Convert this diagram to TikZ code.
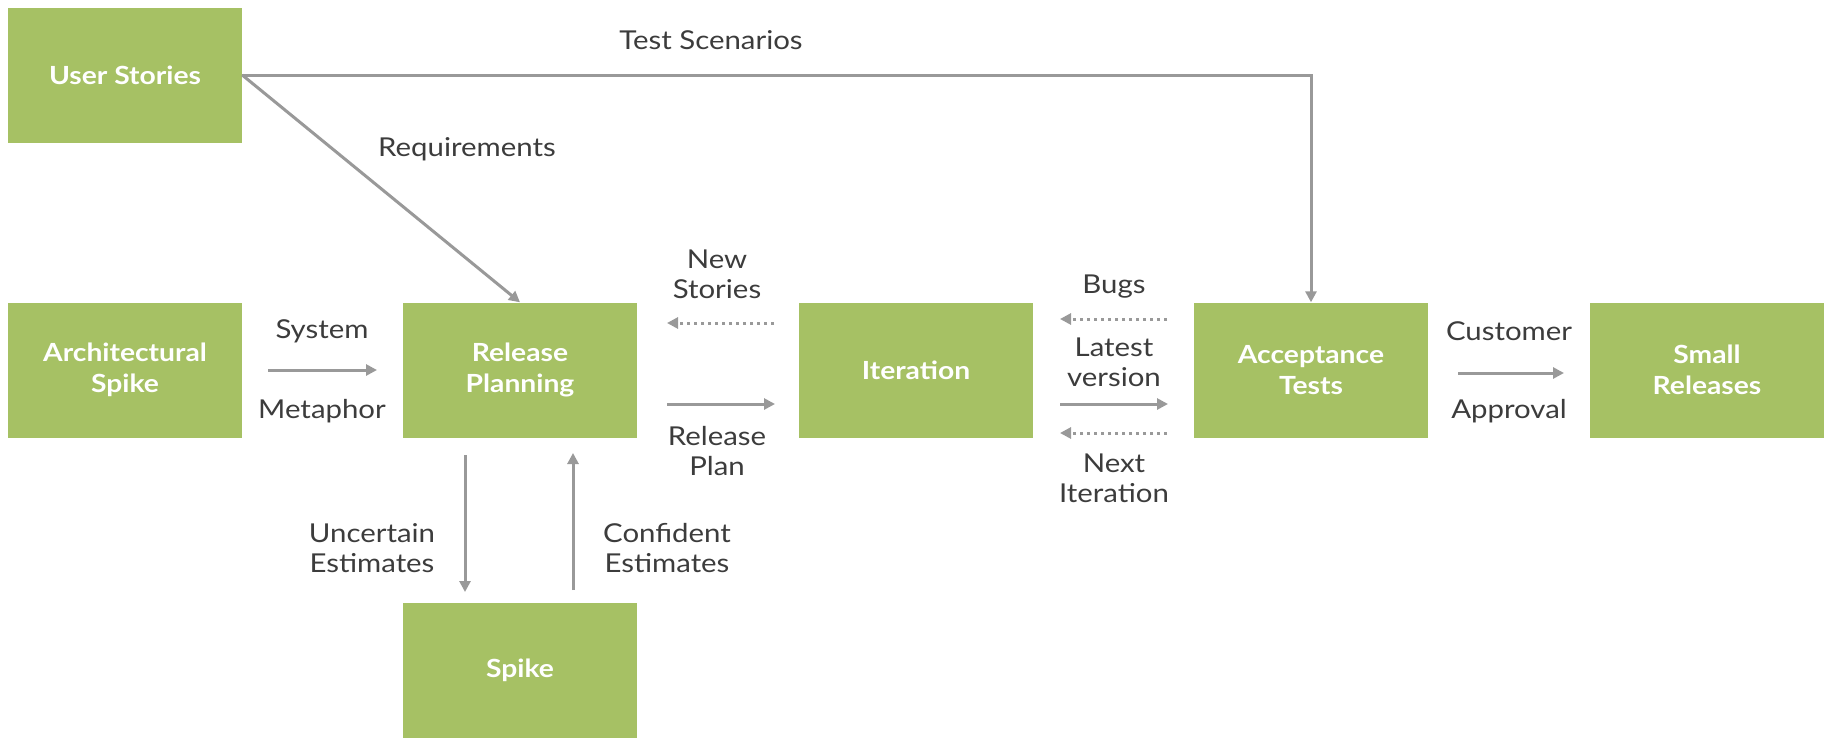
\documentclass[tikz,border=0pt]{standalone}
\usepackage{fontspec}
\setmainfont{Lato}[FakeStretch=1.13]
\usetikzlibrary{arrows.meta}
\definecolor{boxgreen}{HTML}{A6C164}
\definecolor{arrowgray}{HTML}{999999}
\definecolor{labelgray}{HTML}{3C3C3C}
\tikzset{
  stepbox/.style={fill=boxgreen, minimum width=234pt, minimum height=135pt, inner sep=0pt,
    text=white, align=center, font=\fontsize{25}{31}\selectfont\bfseries},
  lbl/.style={text=labelgray, align=center, inner sep=0pt, font=\fontsize{26}{30}\selectfont},
  flow/.style={draw=arrowgray, line width=3pt, -{Triangle[length=11pt,width=11pt]}},
  dotflow/.style={flow, dash pattern=on 3pt off 4pt},
}
\begin{document}
\begin{tikzpicture}[x=1pt,y=-1pt]
\useasboundingbox (0,0) rectangle (1836,750);
% boxes
\node[stepbox] (us) at (125,75) {User Stories};
\node[stepbox] (as) at (125,370) {Architectural\\Spike};
\node[stepbox] (rp) at (520,370) {Release\\Planning};
\node[stepbox] (it) at (916,370) {Iteration};
\node[stepbox] (at) at (1311,370) {Acceptance\\Tests};
\node[stepbox] (sr) at (1707,370) {Small\\Releases};
\node[stepbox] (sp) at (520,670) {Spike};
% coordinates for free arrows
\coordinate (sysA) at (268,370);
\coordinate (sysB) at (377,370);
\coordinate (nsA) at (774,323);
\coordinate (nsB) at (667,323);
\coordinate (rplA) at (667,404);
\coordinate (rplB) at (775,404);
\coordinate (bgA) at (1167,319);
\coordinate (bgB) at (1060,319);
\coordinate (lvA) at (1060,404);
\coordinate (lvB) at (1168,404);
\coordinate (niA) at (1167,433);
\coordinate (niB) at (1060,433);
\coordinate (caA) at (1458,373);
\coordinate (caB) at (1564,373);
\coordinate (ueA) at (465,455);
\coordinate (ueB) at (465,592);
\coordinate (ceA) at (573,590);
\coordinate (ceB) at (573,453);
% connectors
\draw[flow] (us.east) -- (rp.north);
\draw[flow] (us.east) -| (at.north);
\draw[flow] (sysA) -- (sysB);
\draw[dotflow] (nsA) -- (nsB);
\draw[flow] (rplA) -- (rplB);
\draw[dotflow] (bgA) -- (bgB);
\draw[flow] (lvA) -- (lvB);
\draw[dotflow] (niA) -- (niB);
\draw[flow] (caA) -- (caB);
\draw[flow] (ueA) -- (ueB);
\draw[flow] (ceA) -- (ceB);
% labels
\node[lbl] (tTS) at (711,40) {Test Scenarios};
\node[lbl] (tRq) at (467,149) {Requirements};
\node[lbl] (tSy) at (322,331) {System};
\node[lbl] (tMe) at (322,411) {Metaphor};
\node[lbl] (tNS) at (717,274) {New\\Stories};
\node[lbl] (tRP) at (717,451) {Release\\Plan};
\node[lbl] (tBu) at (1114,287) {Bugs};
\node[lbl] (tLV) at (1114,362) {Latest\\version};
\node[lbl] (tNI) at (1114,478) {Next\\Iteration};
\node[lbl] (tCu) at (1509,331) {Customer};
\node[lbl] (tAp) at (1509,411) {Approval};
\node[lbl] (tUE) at (372,548) {Uncertain\\Estimates};
\node[lbl] (tCE) at (667,548) {Confident\\Estimates};
\end{tikzpicture}
\end{document}
